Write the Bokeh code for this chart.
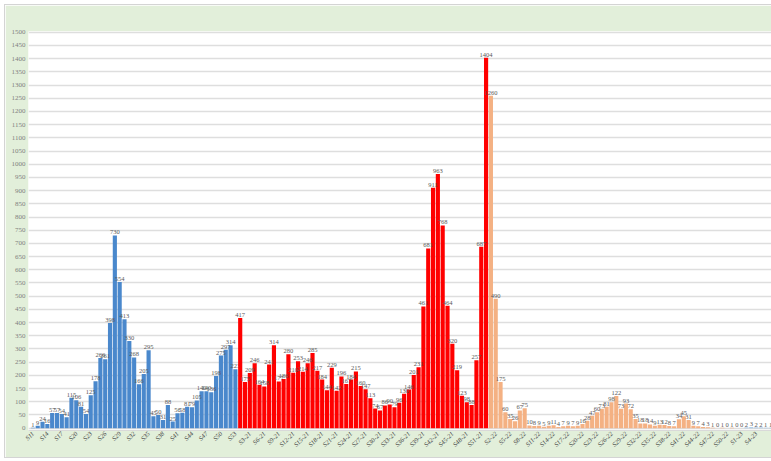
import math
from bokeh.plotting import figure
from bokeh.models import ColumnDataSource, Range1d, FixedTicker
from bokeh.core.properties import value
from bokeh.embed import file_html
from bokeh.resources import INLINE

# Weekly values
cases_2020 = [1, 9, 24, 16, 57, 57, 54, 41, 115, 106, 81, 54, 125, 178, 266, 261,
              398, 730, 554, 413, 330, 268, 166, 205, 295, 45, 50, 31, 88, 25, 56, 58,
              81, 79, 105, 140, 140, 136, 198, 275, 297, 314, 223]
cases_2021 = [417, 175, 209, 246, 164, 158, 241, 314, 177, 186, 280, 210, 253, 214, 246, 285,
              217, 184, 144, 229, 142, 196, 167, 184, 215, 160, 147, 113, 74, 67, 86, 90,
              79, 96, 130, 146, 201, 231, 461, 681, 911, 963, 768, 464, 320, 219, 123, 98,
              88, 257, 687, 1404]
cases_2022 = [1260, 490, 175, 60, 35, 26, 67, 75, 10, 8, 9, 5, 9, 11, 4, 7,
              9, 7, 9, 16, 28, 47, 60, 73, 81, 98, 122, 73, 93, 72, 35, 18,
              18, 14, 9, 13, 12, 8, 7, 34, 45, 31, 9, 7, 4, 3, 1, 0, 1, 0, 1, 0]
cases_2023 = [0, 2, 3, 2, 2, 1, 1]

weeks_2020 = ["S%d" % w for w in range(11, 54)]
weeks_2021 = ["S%d-21" % w for w in range(1, 53)]
weeks_2022 = ["S%d-22" % w for w in range(1, 53)]
weeks_2023 = ["S%d-23" % w for w in range(1, 8)]

colors = {"2020": "#4a88cc", "2021": "#ff0000", "2022": "#f4b183", "2023": "#9dc3e6"}

series = [("2020", cases_2020, weeks_2020), ("2021", cases_2021, weeks_2021),
          ("2022", cases_2022, weeks_2022), ("2023", cases_2023, weeks_2023)]

all_weeks = weeks_2020 + weeks_2021 + weeks_2022 + weeks_2023

p = figure(width=766, height=452, output_backend="svg", toolbar_location=None,
           x_range=Range1d(-0.91, 153.2), y_range=Range1d(-9, 1503),
           min_border_left=23, min_border_right=0, min_border_top=26, min_border_bottom=27,
           border_fill_color="#e2efda", background_fill_color="white",
           outline_line_color=None)
p.styles = {"margin-left": "5px", "margin-top": "5px", "outline": "1px solid #d4d4d4"}

start = 0
for year, vals, wks in series:
    xs = list(range(start, start + len(vals)))
    src = ColumnDataSource(dict(x=xs, v=vals, lbl=[str(v) for v in vals]))
    p.vbar(x="x", top="v", width=0.86, source=src, fill_color=colors[year],
           line_color=None)
    p.text(x="x", y="v", text="lbl", source=src, text_align="center",
           text_baseline="bottom", y_offset=-1, text_font_size="6.5px",
           text_color="#595959", text_font=value("Liberation Sans Narrow"))
    start += len(vals)

ticks = list(range(0, 151, 3))
p.xaxis.ticker = FixedTicker(ticks=ticks)
p.xaxis.major_label_overrides = {i: all_weeks[i] for i in ticks}
p.xaxis.major_label_orientation = math.pi / 4
p.xaxis.major_label_text_font_size = "6.5px"
p.xaxis.major_label_text_color = "#404040"
p.xaxis.major_label_text_font = "Liberation Sans Narrow"
p.xaxis.major_label_text_font_style = "italic"
p.xaxis.major_label_standoff = 2
p.xaxis.axis_line_color = "#d9d9d9"
p.xaxis.major_tick_line_color = None
p.xaxis.major_tick_out = 0
p.xaxis.minor_tick_line_color = None
p.xgrid.grid_line_color = None

yt = list(range(0, 1501, 50))
p.yaxis.ticker = FixedTicker(ticks=yt)
p.yaxis.major_label_text_font_size = "7px"
p.yaxis.major_label_text_color = "#7f7f7f"
p.yaxis.major_label_text_font = "Liberation Sans Narrow"
p.yaxis.major_label_standoff = 3
p.yaxis.axis_line_color = None
p.yaxis.major_tick_line_color = None
p.yaxis.major_tick_out = 0
p.yaxis.minor_tick_line_color = None
p.ygrid.ticker = FixedTicker(ticks=yt)
p.ygrid.grid_line_color = "#dedede"
p.ygrid.grid_line_width = 1.5

open("out.html", "w").write(file_html(p, INLINE))
